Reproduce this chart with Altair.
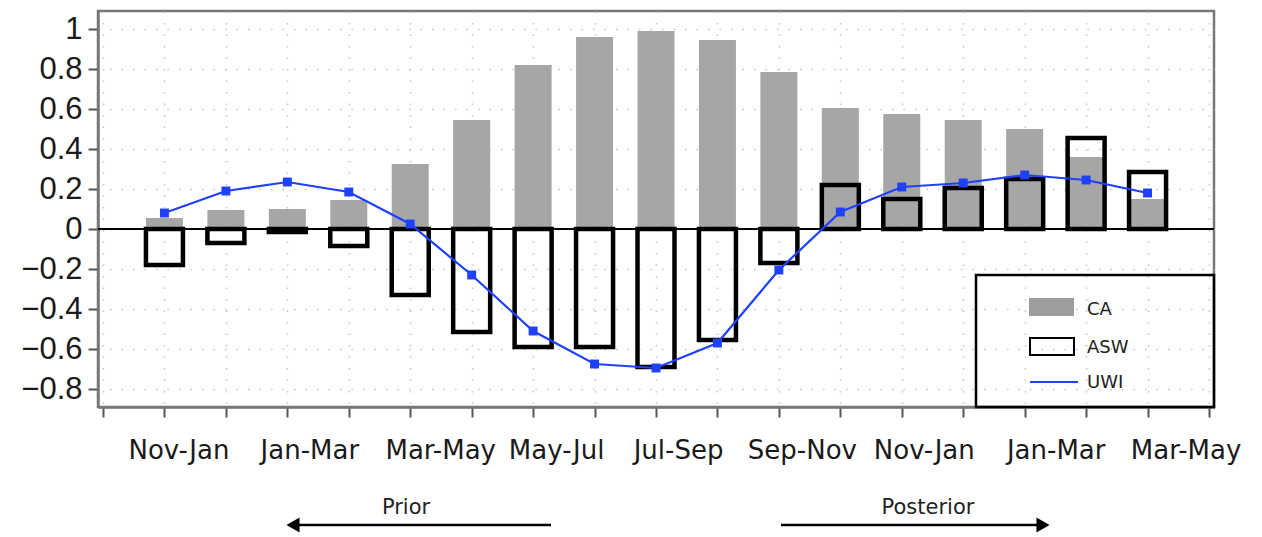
import altair as alt
import pandas as pd

periods = ["Nov-Jan", "Dec-Feb", "Jan-Mar", "Feb-Apr", "Mar-May", "Apr-Jun",
           "May-Jul", "Jun-Aug", "Jul-Sep", "Aug-Oct", "Sep-Nov", "Oct-Dec",
           "Nov-Jan", "Dec-Feb", "Jan-Mar", "Feb-Apr", "Mar-May"]
ca = [0.055, 0.095, 0.10, 0.145, 0.325, 0.545, 0.82, 0.96, 0.99, 0.945,
      0.785, 0.605, 0.575, 0.545, 0.50, 0.36, 0.15]
asw = [-0.18, -0.07, -0.015, -0.085, -0.33, -0.515, -0.59, -0.59, -0.69,
       -0.555, -0.17, 0.22, 0.15, 0.205, 0.25, 0.455, 0.285]
uwi = [0.08, 0.19, 0.235, 0.185, 0.025, -0.23, -0.51, -0.675, -0.695,
       -0.57, -0.205, 0.085, 0.21, 0.23, 0.27, 0.245, 0.18]
legend_labels = ["CA", "ASW", "UWI"]
arrow_labels = ["Prior", "Posterior"]
y_ticks = [-0.8, -0.6, -0.4, -0.2, 0, 0.2, 0.4, 0.6, 0.8, 1.0]

# horizontal nudges (px) of the printed month labels, as placed in the original
label_nudge = {1: 14, 3: 22, 5: 30, 7: 23, 9: 22, 11: 23, 13: 22, 15: 31, 17: 38}

df = pd.DataFrame({
    "idx": list(range(1, len(periods) + 1)),
    "period": periods,
    "CA": ca,
    "ASW": asw,
    "UWI": uwi,
})
one = pd.DataFrame({"k": [0]})

GRAY = "#a6a6a6"
BLUE = "#2040ff"
GRID = "#c4c4c4"

arr = "[" + ",".join("'" + p + "'" for p in periods) + "]"
x_label_expr = f"(datum.value % 2 == 1) ? {arr}[datum.value - 1] : ''"

label_offset = {
    "condition": [{"test": f"datum.value == {k}", "value": v} for k, v in label_nudge.items()],
    "value": 24,
}

x_scale = alt.Scale(domain=[0, len(periods) + 1], nice=False, zero=False)
y_scale = alt.Scale(domain=[-0.89, 1.09], nice=False, zero=False)

x_axis = alt.Axis(
    title=None, values=list(range(0, len(periods) + 2)), labelExpr=x_label_expr,
    labelOffset=label_offset, labelFont="DejaVu Sans", labelFontSize=26,
    labelPadding=20, labelFlush=False, labelOverlap=False,
)
y_axis = alt.Axis(
    title=None, values=y_ticks, format=".1~f",
    labelFont="Liberation Sans", labelFontSize=31, labelPadding=6,
)

base = alt.Chart(df)

ca_bars = base.mark_bar(width=37, color=GRAY).encode(
    x=alt.X("idx:Q", scale=x_scale, axis=x_axis),
    y=alt.Y("CA:Q", scale=y_scale, axis=y_axis),
)

zero_line = alt.Chart(one).mark_rule(color="black", strokeWidth=2).encode(
    y=alt.datum(0)
)

asw_bars = base.mark_bar(width=37, fillOpacity=0, stroke="black", strokeWidth=4.5).encode(
    x=alt.X("idx:Q", scale=x_scale, title=None),
    y=alt.Y("ASW:Q", scale=y_scale, title=None),
)

uwi_line = base.mark_line(color=BLUE, strokeWidth=2.2).encode(
    x=alt.X("idx:Q", scale=x_scale, title=None),
    y=alt.Y("UWI:Q", scale=y_scale, title=None),
)
uwi_pts = base.mark_square(size=80, color=BLUE, opacity=1).encode(
    x=alt.X("idx:Q", scale=x_scale, title=None),
    y=alt.Y("UWI:Q", scale=y_scale, title=None),
)

# legend box (drawn manually)
leg_box = alt.Chart(one).mark_rect(fillOpacity=0, stroke="black", strokeWidth=2.5).encode(
    x=alt.value(878), x2=alt.value(1116), y=alt.value(264), y2=alt.value(396)
)
leg_ca = alt.Chart(one).mark_rect(color="#9d9d9d").encode(
    x=alt.value(931), x2=alt.value(976), y=alt.value(287), y2=alt.value(305)
)
leg_asw = alt.Chart(one).mark_rect(fillOpacity=0, stroke="black", strokeWidth=2).encode(
    x=alt.value(932), x2=alt.value(976), y=alt.value(327), y2=alt.value(344)
)
leg_uwi = alt.Chart(one).mark_rule(color=BLUE, strokeWidth=2).encode(
    x=alt.value(932), x2=alt.value(980), y=alt.value(371)
)
leg_texts = [
    alt.Chart(one).mark_text(text=lab, font="DejaVu Sans", fontSize=18, align="left",
                             baseline="middle", color="#222").encode(
        x=alt.value(989), y=alt.value(yy))
    for lab, yy in zip(legend_labels, [299, 337, 372])
]

# Prior / Posterior arrows
prior_line = alt.Chart(one).mark_rule(color="black", strokeWidth=2.5).encode(
    x=alt.value(192), x2=alt.value(453), y=alt.value(514)
)
prior_head = alt.Chart(one).mark_point(shape="triangle-left", filled=True, color="black",
                                       opacity=1, size=230).encode(
    x=alt.value(195), y=alt.value(514)
)
prior_text = alt.Chart(one).mark_text(text=arrow_labels[0], font="DejaVu Sans", fontSize=21,
                                      align="center", baseline="middle", color="#222").encode(
    x=alt.value(308), y=alt.value(497)
)
post_line = alt.Chart(one).mark_rule(color="black", strokeWidth=2.5).encode(
    x=alt.value(683), x2=alt.value(948), y=alt.value(514)
)
post_head = alt.Chart(one).mark_point(shape="triangle-right", filled=True, color="black",
                                      opacity=1, size=230).encode(
    x=alt.value(945), y=alt.value(514)
)
post_text = alt.Chart(one).mark_text(text=arrow_labels[1], font="DejaVu Sans", fontSize=21,
                                     align="center", baseline="middle", color="#222").encode(
    x=alt.value(830), y=alt.value(497)
)

chart = alt.layer(
    ca_bars, zero_line, asw_bars, leg_box, leg_ca, leg_asw, leg_uwi, *leg_texts,
    uwi_line, uwi_pts, prior_line, prior_head, prior_text, post_line, post_head, post_text,
).properties(
    width=1116, height=396,
    padding={"left": 12, "top": 3, "right": 5, "bottom": 5},
).configure_view(
    stroke="#777", strokeWidth=2.5
).configure_axis(
    labelColor="#1a1a1a", tickSize=10, tickWidth=2, tickColor="#555",
    domainColor="#777", domainWidth=2.5,
    grid=True, gridDash=[1.5, 10], gridColor=GRID, gridWidth=1.5,
)

chart.save("out.html", embed_options={"renderer": "svg", "actions": False})
